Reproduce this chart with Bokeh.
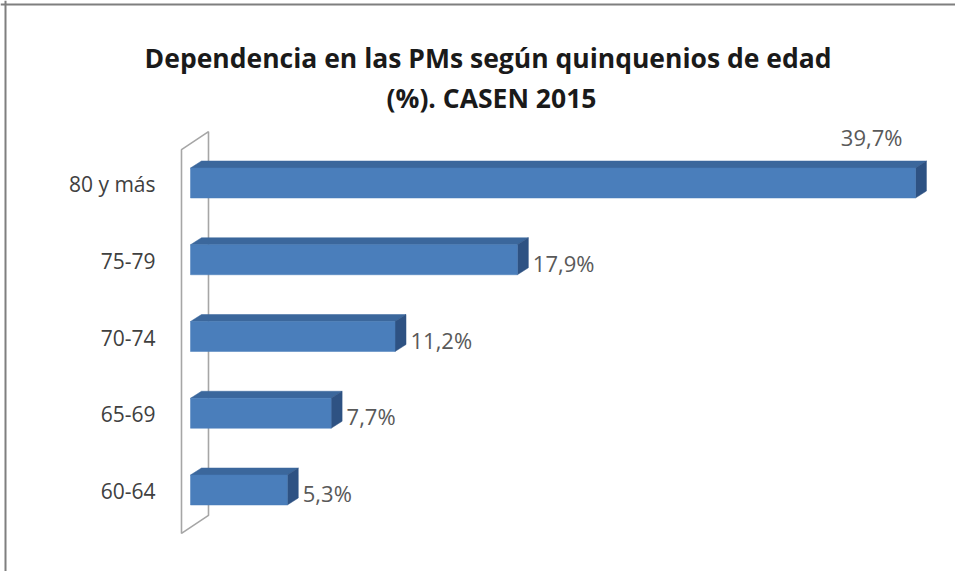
from bokeh.plotting import figure
from bokeh.models import ColumnDataSource, Label, Span
from bokeh.embed import file_html
from bokeh.resources import INLINE
from bokeh.core.properties import value

# ---- data ----
categories = ["60-64", "65-69", "70-74", "75-79", "80 y más"]
values = [5.3, 7.7, 11.2, 17.9, 39.7]
value_labels = ["5,3%", "7,7%", "11,2%", "17,9%", "39,7%"]
title_lines = ["Dependencia en las PMs según quinquenios  de edad", "(%). CASEN 2015"]

# ---- geometry (styles) ----
W, H = 955, 571
kx = 18.26   # px per %
ky = 76.75   # px per category
x0 = -190 / kx
x1 = x0 + W / kx
y1 = 489.5 / ky
y0 = y1 - H / ky

bar_h = 30 / ky
ddx = 11 / kx
ddy = 7 / ky

p = figure(width=W, height=H, x_range=(x0, x1), y_range=(y0, y1),
           output_backend="svg", toolbar_location=None, min_border=0)
p.axis.visible = False
p.grid.visible = False
p.outline_line_color = None
p.background_fill_color = "white"

n = len(categories)
ys = list(range(n))

# side wall (3D)
wf = -9 / kx
wb = 18 / kx
wdy = 18 / ky
wy_bot = -0.566
wy_top = wy_bot + n
p.patch([wf, wb, wb, wf], [wy_bot, wy_bot + wdy, wy_top + wdy, wy_top],
        fill_color="white", line_color="#A6A6A6", line_width=1.6)

# bars: front, top, side faces
front = ColumnDataSource(dict(left=[0] * n, right=values,
                              bottom=[y - bar_h / 2 for y in ys],
                              top=[y + bar_h / 2 for y in ys]))
tops_x, tops_y, sides_x, sides_y = [], [], [], []
for v, y in zip(values, ys):
    t = y + bar_h / 2
    b = y - bar_h / 2
    tops_x.append([0, v, v + ddx, ddx])
    tops_y.append([t, t, t + ddy, t + ddy])
    sides_x.append([v, v + ddx, v + ddx, v])
    sides_y.append([b, b + ddy, t + ddy, t])

p.patches(tops_x, tops_y, fill_color="#3B679C", line_color="#3B679C", line_width=0.5)
p.patches(sides_x, sides_y, fill_color="#2E5283", line_color="#2E5283", line_width=0.5)
p.quad(left="left", right="right", bottom="bottom", top="top", source=front,
       fill_color="#4A7EBB", line_color="#4A7EBB", line_width=0.5)

# category labels
p.text(x=[wf - 26 / kx] * n, y=[y - 1 / ky for y in ys], text=categories,
       text_font=value("Open Sans"), text_font_size="21px", text_color="#404040",
       text_align="right", text_baseline="middle")

# value labels
imax = values.index(max(values))
lx, ly, lt = [], [], []
for i, (v, y) in enumerate(zip(values, ys)):
    if i == imax:
        continue
    lx.append(v + ddx + 4.5 / kx)
    ly.append(y - 3 / ky)
    lt.append(value_labels[i])
p.text(x=lx, y=ly, text=lt, text_font=value("Open Sans"), text_font_size="22px",
       text_color="#595959", text_align="left", text_baseline="middle")
p.text(x=[values[imax] - 13 / kx], y=[ys[imax] + 46 / ky], text=[value_labels[imax]],
       text_font=value("Open Sans"), text_font_size="22px",
       text_color="#595959", text_align="right", text_baseline="middle")

# title
for i, (line, base) in enumerate(zip(title_lines, [57, 97])):
    p.add_layout(Label(x=491, y=H - base, x_units="screen", y_units="screen", text=line,
                       text_font="Open Sans", text_font_style="bold", text_font_size="26.5px",
                       text_color="#1a1a1a", text_align="center", text_baseline="alphabetic"))

# chart-area border (top and left)
p.add_layout(Span(location=y1 - 4 / ky, dimension="width", line_color="#7F7F7F", line_width=2))
p.add_layout(Span(location=x0 + 5 / kx, dimension="height", line_color="#7F7F7F", line_width=2))

open("out.html", "w").write(file_html(p, INLINE))
